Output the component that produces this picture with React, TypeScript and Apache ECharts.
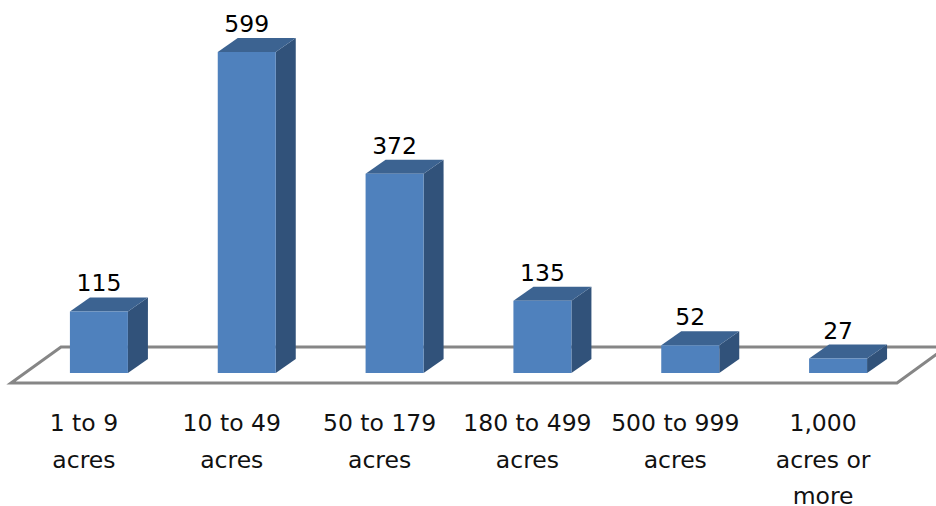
import React, { useEffect, useRef } from "react";
import * as echarts from "echarts";

const categories = [
  "1 to 9\nacres",
  "10 to 49\nacres",
  "50 to 179\nacres",
  "180 to 499\nacres",
  "500 to 999\nacres",
  "1,000\nacres or\nmore",
];
const counts = [115, 599, 372, 135, 52, 27];

const FONT = "'DejaVu Sans', sans-serif";
const DEPTH_X = 20;
const DEPTH_Y = 14;
const BAR_WIDTH = 58;

function renderBar(_params: any, api: any) {
  const idx = api.value(0);
  const val = api.value(1);
  const top = api.coord([idx, val]);
  const base = api.coord([idx, 0]);
  const x0 = top[0] - BAR_WIDTH / 2;
  const x1 = top[0] + BAR_WIDTH / 2;
  const yT = top[1];
  const yB = base[1];
  return {
    type: "group",
    children: [
      {
        type: "polygon",
        shape: { points: [[x1, yT], [x1 + DEPTH_X, yT - DEPTH_Y], [x1 + DEPTH_X, yB - DEPTH_Y], [x1, yB]] },
        style: { fill: "#31527A" },
      },
      {
        type: "polygon",
        shape: { points: [[x0, yT], [x0 + DEPTH_X, yT - DEPTH_Y], [x1 + DEPTH_X, yT - DEPTH_Y], [x1, yT]] },
        style: { fill: "#3C6391" },
      },
      {
        type: "rect",
        shape: { x: x0, y: yT, width: BAR_WIDTH, height: yB - yT },
        style: { fill: "#4F81BD" },
      },
      {
        type: "text",
        style: {
          x: top[0],
          y: yT - DEPTH_Y - 14,
          text: String(val),
          fill: "#000",
          font: `23.5px ${FONT}`,
          align: "center",
          verticalAlign: "middle",
        },
      },
    ],
  };
}

export default function App() {
  const ref = useRef<HTMLDivElement>(null);
  useEffect(() => {
    const chart = echarts.init(ref.current!, undefined, { renderer: "svg" });
    chart.setOption({
      animation: false,
      backgroundColor: "#fff",
      grid: { left: 25, right: 24, top: 51.5, bottom: 133, outerBoundsMode: "none" },
      xAxis: {
        type: "category",
        data: categories,
        axisLine: { show: false },
        axisTick: { show: false },
        axisLabel: {
          interval: 0,
          margin: 32,
          padding: [0, 30, 0, 0],
          fontFamily: FONT,
          fontSize: 23.5,
          lineHeight: 36.5,
          color: "#111",
        },
      },
      yAxis: { type: "value", min: 0, max: 600, show: false },
      graphic: [
        {
          type: "polyline",
          z: 0,
          shape: { points: [[941, 351], [897, 383], [11, 383], [61, 347], [936, 347]] },
          style: { stroke: "#868686", lineWidth: 3, fill: "#fff" },
        },
      ],
      series: [
        {
          type: "custom",
          renderItem: renderBar,
          clip: false,
          z: 5,
          encode: { x: 0, y: 1 },
          data: counts.map((v, i) => [i, v]),
        },
      ],
    });
    return () => chart.dispose();
  }, []);
  return (
    <div
      ref={ref}
      style={{ position: "fixed", left: 0, top: 0, width: 936, height: 506 }}
    />
  );
}
